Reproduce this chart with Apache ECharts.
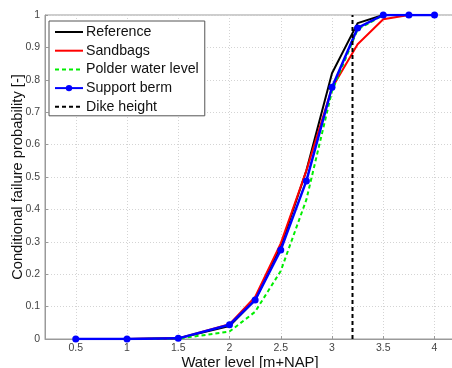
<!DOCTYPE html>
<html>
<head>
<meta charset="utf-8">
<script src="https://cdn.jsdelivr.net/npm/echarts@6/dist/echarts.min.js"></script>
<style>html,body{margin:0;padding:0;background:#fff;}#c{width:452px;height:368px;}</style>
</head>
<body>
<div id="c"></div>
<script>
const waterLevels = [0.5, 1, 1.5, 2, 2.25, 2.5, 2.75, 3, 3.25, 3.5, 3.75, 4];
const reference   = [0, 0, 0.002, 0.040, 0.120, 0.285, 0.520, 0.820, 0.975, 1, 1, 1];
const sandbags    = [0, 0, 0.002, 0.046, 0.130, 0.295, 0.520, 0.775, 0.910, 0.987, 1, 1];
const polder      = [0, 0, 0.001, 0.023, 0.084, 0.210, 0.430, 0.765, 0.955, 1, 1, 1];
const berm        = [0, 0, 0.002, 0.044, 0.120, 0.275, 0.488, 0.777, 0.960, 1, 1, 1];
const dikeHeight  = 3.2;
const xTicks = [0.5, 1, 1.5, 2, 2.5, 3, 3.5, 4];
const seriesNames = ['Reference', 'Sandbags', 'Polder water level', 'Support berm', 'Dike height'];

const pair = (ys) => waterLevels.map((x, i) => [x, ys[i]]);
const font = 'Liberation Sans, Arial, sans-serif';
const noMarker = { color: 'rgba(0,0,0,0)', borderWidth: 0 };

const chart = echarts.init(document.getElementById('c'));
chart.setOption({
  animation: false,
  grid: { left: 45, top: 15, right: -3, bottom: 29, outerBoundsMode: 'none', containLabel: false,
    show: true, borderColor: '#9a9a9a', borderWidth: 1, backgroundColor: 'transparent' },
  legend: {
    orient: 'vertical', left: 49, top: 21,
    backgroundColor: '#fff', borderColor: '#555', borderWidth: 1,
    padding: [4, 6, 2, 5], itemGap: 4.7, itemWidth: 28, itemHeight: 8,
    textStyle: { fontFamily: font, fontSize: 14.2, lineHeight: 14, color: '#111', padding: [0, 0, 0, -2] },
    data: [
      { name: seriesNames[0], itemStyle: noMarker },
      { name: seriesNames[1], itemStyle: noMarker },
      { name: seriesNames[2], itemStyle: noMarker },
      { name: seriesNames[3] },
      { name: seriesNames[4], itemStyle: noMarker }
    ]
  },
  xAxis: {
    type: 'value', min: 0.2, max: 4.2,
    name: 'Water level [m+NAP]', nameLocation: 'middle', nameGap: 16, nameMoveOverlap: false,
    nameTextStyle: { fontFamily: font, fontSize: 14.8, color: '#111' },
    axisLine: { show: true, lineStyle: { color: '#9a9a9a' } },
    axisTick: { show: true, inside: true, length: 3, customValues: xTicks, lineStyle: { color: '#9a9a9a' } },
    axisLabel: { customValues: xTicks, fontFamily: font, fontSize: 10.5, color: '#444', margin: 4 },
    splitLine: { show: true, lineStyle: { color: '#d4d4d4', type: [1, 2] } }
  },
  yAxis: {
    type: 'value', min: 0, max: 1, interval: 0.1,
    name: 'Conditional failure probability [-]', nameLocation: 'middle', nameGap: 20, nameMoveOverlap: false,
    nameTextStyle: { fontFamily: font, fontSize: 14.7, color: '#111' },
    axisLine: { show: true, lineStyle: { color: '#9a9a9a' } },
    axisTick: { show: true, inside: true, length: 3, lineStyle: { color: '#9a9a9a' } },
    axisLabel: { fontFamily: font, fontSize: 10.5, color: '#444', margin: 5,
      formatter: v => String(Math.round(v * 10) / 10) },
    splitLine: { show: true, lineStyle: { color: '#d4d4d4', type: [1, 2] } }
  },
  series: [
    { name: seriesNames[0], type: 'line', data: pair(reference), symbol: 'none', color: '#000',
      lineStyle: { color: '#000', width: 2 } },
    { name: seriesNames[1], type: 'line', data: pair(sandbags), symbol: 'none', color: '#ff0000',
      lineStyle: { color: '#ff0000', width: 2 } },
    { name: seriesNames[2], type: 'line', data: pair(polder), symbol: 'none', color: '#00ee00',
      lineStyle: { color: '#00ee00', width: 2, type: [4, 3] } },
    { name: seriesNames[3], type: 'line', data: pair(berm), symbol: 'circle', symbolSize: 7, color: '#0000ff',
      itemStyle: { color: '#0000ff' }, lineStyle: { color: '#0000ff', width: 2.5 } },
    { name: seriesNames[4], type: 'line', data: [[dikeHeight, 0], [dikeHeight, 1]], symbol: 'none', color: '#000',
      lineStyle: { color: '#000', width: 2, type: [4, 3] } }
  ]
});
</script>
</body>
</html>
